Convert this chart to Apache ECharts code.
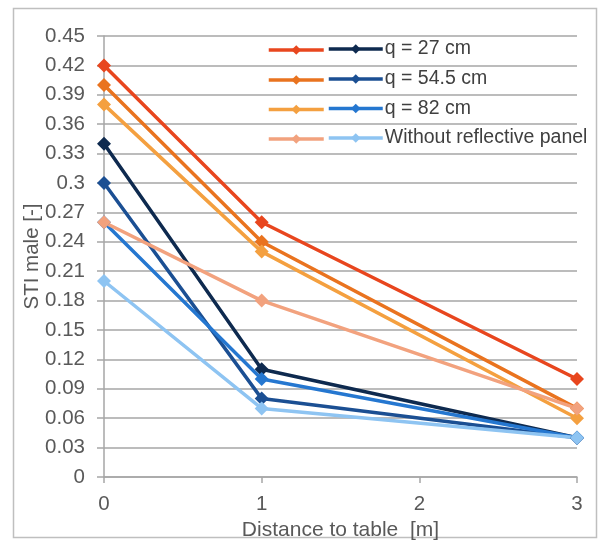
<!DOCTYPE html>
<html>
<head>
<meta charset="utf-8">
<script src="https://cdn.jsdelivr.net/npm/echarts@6/dist/echarts.min.js"></script>
<style>
  html, body { margin: 0; padding: 0; background: #fff; }
  #chart { width: 599px; height: 541px; }
</style>
</head>
<body>
<div id="chart"></div>
<script>
// Distance from the table (m)
const distances = [0, 1, 3];

// Legend captions (one caption per pair of lines)
const captions = ['q = 27 cm', 'q = 54.5 cm', 'q = 82 cm', 'Without reflective panel'];

// STI male values, warm-coloured group
const warm27 = [0.42, 0.26, 0.10];
const warm545 = [0.40, 0.24, 0.07];
const warm82 = [0.38, 0.23, 0.06];
const warmNone = [0.26, 0.18, 0.07];

// STI male values, blue group
const blue27 = [0.34, 0.11, 0.04];
const blue545 = [0.30, 0.08, 0.04];
const blue82 = [0.26, 0.10, 0.04];
const blueNone = [0.20, 0.07, 0.04];

const warmColors = ['#E8461E', '#E9731F', '#F4A040', '#F2A27E'];
const blueColors = ['#0E2A4F', '#1B4F93', '#2577D0', '#8EC4F2'];

const warmValues = [warm27, warm545, warm82, warmNone];
const blueValues = [blue27, blue545, blue82, blueNone];

const FONT = '"Liberation Sans", Arial, sans-serif';
const TEXT = '#595959';

function pairs(vals) {
  return distances.map((d, i) => [d, vals[i]]);
}

function lineSeries(name, vals, color) {
  return {
    name: name,
    type: 'line',
    data: pairs(vals),
    symbol: 'diamond',
    symbolSize: 14,
    showSymbol: true,
    lineStyle: { width: 3.5, color: color },
    itemStyle: { color: color },
    emphasis: { disabled: true },
    animation: false
  };
}

const series = [];
const blueNames = captions.slice();
const warmNames = captions.map(c => c + ' ');
blueValues.forEach((v, i) => series.push(lineSeries(blueNames[i], v, blueColors[i])));
warmValues.forEach((v, i) => series.push(lineSeries(warmNames[i], v, warmColors[i])));

// Legend rows: a warm swatch, a blue swatch, then the caption
const rowCenters = [50, 80, 109.5, 139];
const legends = [];
captions.forEach((c, i) => {
  legends.push({
    data: [warmNames[i]],
    left: 267, top: rowCenters[i] - 6,
    padding: 0, itemWidth: 55, itemHeight: 12,
    selectedMode: false,
    lineStyle: { width: 3.5 },
    formatter: () => '',
    textStyle: { fontSize: 1 }
  });
  legends.push({
    data: [blueNames[i]],
    left: 327, top: rowCenters[i] - 11,
    padding: 0, itemWidth: 54, itemHeight: 12, itemGap: 0,
    selectedMode: false,
    lineStyle: { width: 3.5 },
    textStyle: { fontFamily: FONT, fontSize: 19.5, color: '#404040', padding: [0, 0, 0, -3] }
  });
});

const chart = echarts.init(document.getElementById('chart'), null, { renderer: 'canvas' });
chart.setOption({
  backgroundColor: '#ffffff',
  animation: false,
  graphic: [{
    type: 'rect',
    shape: { x: 13.5, y: 8.5, width: 583, height: 529 },
    style: { fill: 'none', stroke: '#BFBFBF', lineWidth: 1.5 },
    silent: true, z: -10
  }],
  grid: { left: 104, right: 22, top: 36, bottom: 64, containLabel: false, outerBoundsMode: 'none' },
  legend: legends,
  xAxis: {
    type: 'value', min: 0, max: 3, interval: 1,
    name: 'Distance to table  [m]',
    nameLocation: 'middle', nameGap: 43, nameMoveOverlap: false,
    nameTextStyle: { fontFamily: FONT, fontSize: 21, color: TEXT },
    axisLine: { show: true, lineStyle: { color: '#A6A6A6', width: 1.5 } },
    axisTick: { show: true, length: 6, lineStyle: { color: '#A6A6A6', width: 1.5 } },
    axisLabel: { fontFamily: FONT, fontSize: 20.5, color: TEXT, margin: 17 },
    splitLine: { show: false }
  },
  yAxis: {
    type: 'value', min: 0, max: 0.45, interval: 0.03,
    name: 'STI male [-]',
    nameLocation: 'middle', nameGap: 61, nameRotate: 90, nameMoveOverlap: false,
    nameTextStyle: { fontFamily: FONT, fontSize: 20.5, color: TEXT },
    axisLine: { show: true, lineStyle: { color: '#A6A6A6', width: 1.5 } },
    axisTick: { show: true, length: 7, lineStyle: { color: '#A6A6A6', width: 1.5 } },
    axisLabel: {
      fontFamily: FONT, fontSize: 20.5, color: TEXT, margin: 19,
      formatter: v => String(+v.toFixed(2))
    },
    splitLine: { show: true, lineStyle: { color: '#A6A6A6', width: 1.5 } }
  },
  series: series
});
</script>
</body>
</html>
